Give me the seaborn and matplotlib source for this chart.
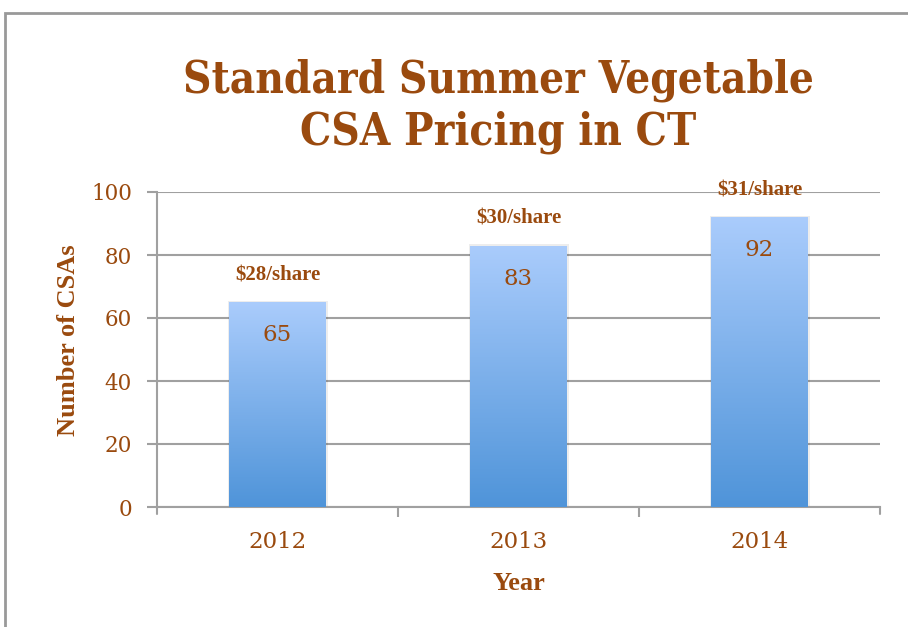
import numpy as np
import pandas as pd
import seaborn as sns
import matplotlib
matplotlib.use("Agg")
from matplotlib import pyplot as plt
from matplotlib.patches import Rectangle
from matplotlib.colors import LinearSegmentedColormap

years = ["2012", "2013", "2014"]
csa_counts = [65, 83, 92]
prices = ["$28/share", "$30/share", "$31/share"]

brown = "#9A4A0E"
grid_gray = "#A0A0A0"

sns.set_style("white")
plt.rcParams['font.family'] = ['DejaVu Serif']

df = pd.DataFrame({"year": years, "count": csa_counts})

fig = plt.figure(figsize=(9.08, 6.27), dpi=100)
ax = fig.add_axes([157/908, 1-507/627, 723/908, 315/627])

sns.barplot(data=df, x="year", y="count", ax=ax, width=0.4, color="#8AB6EE",
            edgecolor="none", zorder=3)

# gradient fill on top of each bar
cmap = LinearSegmentedColormap.from_list("barfade", ["#4F94D9", "#AACCFC"])
grad = np.linspace(0, 1, 256).reshape(-1, 1)
for p in list(ax.patches):
    x0, y0 = p.get_x(), p.get_y()
    w, h = p.get_width(), p.get_height()
    img = ax.imshow(grad, cmap=cmap, origin="lower", aspect="auto",
                    extent=[x0, x0 + w, y0, y0 + h], zorder=4)
    img.set_clip_path(p)
    # soft shadow
    ax.add_patch(Rectangle((x0 - 0.006, y0), w + 0.016, h + 0.5, facecolor="#000000",
                           alpha=0.07, zorder=2, edgecolor="none"))

ax.set_xlim(-0.5, 2.5)
ax.set_ylim(0, 100)
ax.set_yticks([0, 20, 40, 60, 80, 100])
ax.yaxis.grid(True, color=grid_gray, linewidth=1.5, zorder=0)
ax.set_axisbelow(True)

for s in ["top", "right"]:
    ax.spines[s].set_visible(False)
for s in ["left", "bottom"]:
    ax.spines[s].set_color(grid_gray)
    ax.spines[s].set_linewidth(1.5)

ax.tick_params(axis="y", length=7, width=1.5, color=grid_gray, labelcolor=brown,
               labelsize=15.5, pad=11, left=True)
ax.tick_params(axis="x", length=0, labelcolor=brown, labelsize=16.5, pad=17)
ax.set_xticks([0.5, 1.5], minor=True)
ax.tick_params(axis="x", which="minor", length=7, width=1.5, color=grid_gray, bottom=True)
for xb in [-0.5, 2.5]:
    ax.plot([xb, xb], [0, -2.3], color=grid_gray, linewidth=1.5, clip_on=False)

for i, (c, pr) in enumerate(zip(csa_counts, prices)):
    ax.text(i, c - 10.5, str(c), ha="center", va="center", color=brown,
            fontsize=16.5, zorder=6)
    ax.text(i, c + 8.5, pr, ha="center", va="center", color=brown, fontsize=15,
            fontweight="bold", family="Liberation Serif", zorder=6)

ax.set_xlabel("Year", color=brown, fontsize=19, fontweight="bold",
              family="Liberation Serif", labelpad=14)
ax.set_ylabel("Number of CSAs", color=brown, fontsize=19, fontweight="bold",
              family="Liberation Serif")
ax.yaxis.set_label_coords(-0.106, 0.53)

fig.text(498/908, 1-106/627, "Standard Summer Vegetable\nCSA Pricing in CT",
         ha="center", va="center", color=brown, fontsize=31.5, fontweight="bold",
         fontstretch="condensed", linespacing=1.25)

# outer chart frame
fig.patches.append(Rectangle((5/908, -0.1), 1.2, 1 - 13/627 + 0.1, transform=fig.transFigure,
                             fill=False, edgecolor="#999999", linewidth=2))

fig.savefig("out.png", dpi=100)
